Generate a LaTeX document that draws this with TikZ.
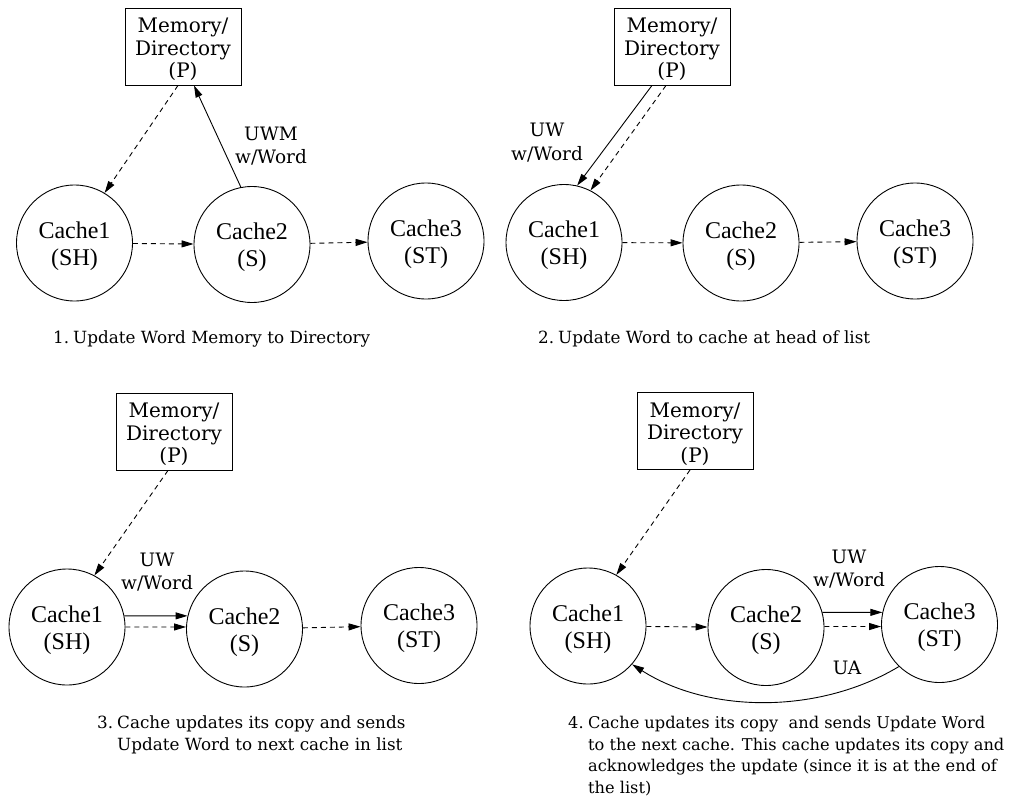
\documentclass[tikz,border=0pt]{standalone}
\usepackage{fontspec}
\setmainfont{DejaVu Serif}
\newfontfamily\timesfam{Liberation Serif}
\usetikzlibrary{arrows.meta}

\newcommand\cachefont{\timesfam\fontsize{24}{27}\selectfont}
\newcommand\boxfont{\fontsize{20}{22.5}\selectfont}
\newcommand\lblfont{\fontsize{18.5}{23.5}\selectfont}
\newcommand\captfont{\fontsize{16.8}{21.5}\selectfont}
% struts that push the first line of a node a little lower
\newcommand\boxstrut{\rule{0pt}{21pt}}
\newcommand\cachestrut{\rule{0pt}{22.5pt}}
% hanging-indent helpers for the numbered captions
\newcommand\itemno[1]{\makebox[20pt][l]{#1}}
\newcommand\hang{\hspace*{20pt}}

\tikzset{
  cachenode/.style={circle, draw, line width=0.9pt, minimum size=116pt, inner sep=0pt,
                    font=\cachefont, align=center},
  dirbox/.style={draw, line width=0.9pt, minimum width=116pt, minimum height=77pt,
                 inner sep=0pt, font=\boxfont, align=center},
  msg/.style={-{Triangle[length=12pt,width=7pt]}, line width=0.9pt},
  ptr/.style={msg, dash pattern=on 5pt off 4pt},
  lbl/.style={font=\lblfont, align=center, inner sep=0pt},
  capt/.style={font=\captfont, align=left, inner sep=0pt},
}

\begin{document}
\begin{tikzpicture}[x=1pt, y=-1pt]
\useasboundingbox (0,0) rectangle (1016,803);

% ---------- step 1 ----------
\node[dirbox]    (b1)  at (183,46.5) {\boxstrut Memory/\\Directory\\(P)};
\node[cachenode] (c11) at (74.5,243) {\cachestrut Cache1\\(SH)};
\node[cachenode] (c12) at (252,244.5) {\cachestrut Cache2\\(S)};
\node[cachenode] (c13) at (426,241) {\cachestrut Cache3\\(ST)};
\draw[ptr] ([xshift=-5pt]b1.south) -- (c11.59);
\draw[msg] (c12.101) -- ([xshift=11pt]b1.south);
\draw[ptr] (c11) -- (c12);
\draw[ptr] (c12) -- (c13);
\node[lbl] (l1) at (271,146) {UWM\\w/Word};
\node[capt, anchor=base west] (t1) at (53,343) {\itemno{1.}Update Word Memory to Directory};

% ---------- step 2 ----------
\node[dirbox]    (b2)  at (672,46.5) {\boxstrut Memory/\\Directory\\(P)};
\node[cachenode] (c21) at (564,242.5) {\cachestrut Cache1\\(SH)};
\node[cachenode] (c22) at (741,243) {\cachestrut Cache2\\(S)};
\node[cachenode] (c23) at (915,241) {\cachestrut Cache3\\(ST)};
\draw[msg] ([xshift=-20pt]b2.south) -- (c21.77.5);
\draw[ptr] ([xshift=-6pt]b2.south) -- (c21.63);
\draw[ptr] (c21) -- (c22);
\draw[ptr] (c22) -- (c23);
\node[lbl] (l2) at (547,142.5) {UW\\w/Word};
\node[capt, anchor=base west] (t2) at (538,343) {\itemno{2.}Update Word to cache at head of list};

% ---------- step 3 ----------
\node[dirbox]    (b3)  at (174,431.5) {\boxstrut Memory/\\Directory\\(P)};
\node[cachenode] (c31) at (67,627) {\cachestrut Cache1\\(SH)};
\node[cachenode] (c32) at (244.5,629) {\cachestrut Cache2\\(S)};
\node[cachenode] (c33) at (419,625.5) {\cachestrut Cache3\\(ST)};
\draw[ptr] ([xshift=-6pt]b3.south) -- (c31.62.6);
\draw[msg] (c31.11) -- (c32.167);
\draw[ptr] (c31.0) -- (c32.178);
\draw[ptr] (c32) -- (c33);
\node[lbl] (l3) at (157,572) {UW\\w/Word};
\node[capt, anchor=north west] (t3) at (97,716)
  {\itemno{3.}Cache updates its copy and sends\\\hang Update Word to next cache in list};

% ---------- step 4 ----------
\node[dirbox]    (b4)  at (695,431) {\boxstrut Memory/\\Directory\\(P)};
\node[cachenode] (c41) at (588,626) {\cachestrut Cache1\\(SH)};
\node[cachenode] (c42) at (766,627.5) {\cachestrut Cache2\\(S)};
\node[cachenode] (c43) at (939.5,624.5) {\cachestrut Cache3\\(ST)};
\draw[ptr] ([xshift=-5pt]b4.south) -- (c41.61);
\draw[ptr] (c41) -- (c42);
\draw[msg] (c42.15) -- (c43.168);
\draw[ptr] (c42.1) -- (c43.182);
\draw[msg] (c43.226) .. controls (820,714) and (710,714) .. (c41.319);
\node[lbl] (l4) at (849,569) {UW\\w/Word};
\node[lbl] (l5) at (847,668) {UA};
\node[capt, anchor=north west, font=\fontsize{16.2}{21.5}\selectfont] (t4) at (568,716)
  {\itemno{4.}Cache updates its copy\ \ and sends Update Word\\
   \hang to the next cache. This cache updates its copy and\\
   \hang acknowledges the update (since it is at the end of\\
   \hang the list)};
\end{tikzpicture}
\end{document}
